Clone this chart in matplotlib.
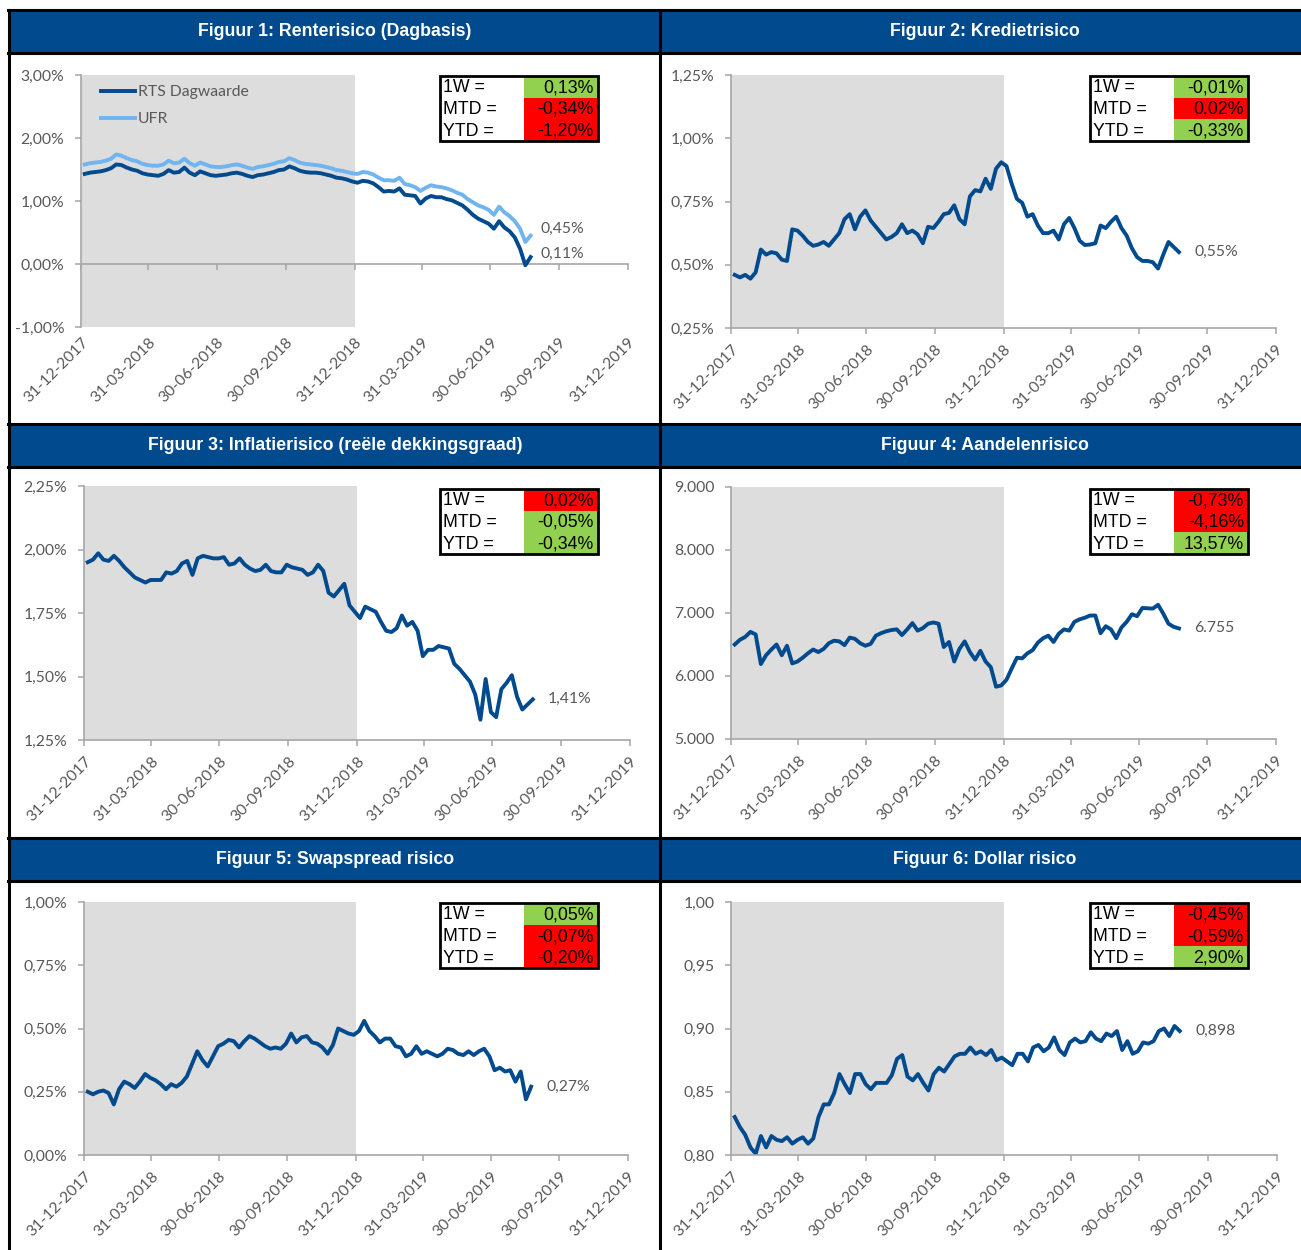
import matplotlib
matplotlib.use("Agg")
import matplotlib.pyplot as plt
import matplotlib.dates as mdates
from matplotlib.patches import Rectangle
from matplotlib.lines import Line2D
from matplotlib.ticker import FuncFormatter, MultipleLocator
import pandas as pd

plt.rcParams["font.family"] = ["Lato", "DejaVu Sans"]

W, H = 1301, 1250

# weekly read-off points (Friday), 05-01-2018 .. 23-08-2019
dates = pd.date_range("2018-01-05", "2019-08-23", freq="7D")

rts = [1.43, 1.45, 1.46, 1.47, 1.49, 1.52, 1.58, 1.57, 1.53, 1.50,
       1.48, 1.44, 1.42, 1.41, 1.40, 1.43, 1.49, 1.45, 1.46, 1.53,
       1.45, 1.41, 1.47, 1.44, 1.41, 1.40, 1.41, 1.42, 1.44, 1.45,
       1.43, 1.40, 1.38, 1.41, 1.42, 1.44, 1.46, 1.49, 1.50, 1.55,
       1.52, 1.48, 1.46, 1.45, 1.45, 1.44, 1.42, 1.40, 1.37, 1.36,
       1.34, 1.31, 1.29, 1.32, 1.31, 1.28, 1.22, 1.15, 1.16, 1.15,
       1.20, 1.10, 1.09, 1.08, 0.96, 1.04, 1.08, 1.06, 1.06, 1.03,
       1.01, 0.97, 0.93, 0.86, 0.78, 0.72, 0.68, 0.64, 0.56, 0.68,
       0.58, 0.52, 0.42, 0.24, -0.02, 0.11]
ufr = [1.58, 1.60, 1.61, 1.62, 1.64, 1.67, 1.74, 1.72, 1.68, 1.65,
       1.63, 1.59, 1.57, 1.56, 1.56, 1.58, 1.64, 1.60, 1.61, 1.67,
       1.60, 1.56, 1.61, 1.58, 1.55, 1.54, 1.54, 1.55, 1.57, 1.58,
       1.56, 1.53, 1.51, 1.54, 1.55, 1.57, 1.59, 1.62, 1.63, 1.68,
       1.65, 1.61, 1.59, 1.58, 1.57, 1.56, 1.54, 1.52, 1.49, 1.48,
       1.46, 1.44, 1.43, 1.46, 1.45, 1.42, 1.37, 1.33, 1.33, 1.32,
       1.37, 1.27, 1.25, 1.22, 1.16, 1.21, 1.25, 1.23, 1.22, 1.20,
       1.17, 1.13, 1.10, 1.03, 0.98, 0.93, 0.90, 0.86, 0.78, 0.91,
       0.82, 0.76, 0.68, 0.56, 0.35, 0.45]
krediet = [0.46, 0.45, 0.46, 0.445, 0.47, 0.56, 0.54, 0.55, 0.545, 0.52,
           0.515, 0.64, 0.635, 0.615, 0.59, 0.575, 0.58, 0.59, 0.575, 0.60,
           0.625, 0.68, 0.70, 0.64, 0.69, 0.715, 0.675, 0.65, 0.625, 0.60,
           0.61, 0.625, 0.66, 0.625, 0.635, 0.62, 0.585, 0.65, 0.645, 0.67,
           0.70, 0.705, 0.735, 0.68, 0.66, 0.77, 0.795, 0.79, 0.84, 0.80,
           0.88, 0.905, 0.89, 0.82, 0.76, 0.745, 0.69, 0.70, 0.655, 0.625,
           0.625, 0.635, 0.60, 0.66, 0.685, 0.645, 0.595, 0.578, 0.58, 0.585,
           0.655, 0.645, 0.67, 0.69, 0.645, 0.615, 0.565, 0.53, 0.515, 0.515,
           0.51, 0.485, 0.54, 0.59, 0.57, 0.55]
inflatie = [1.95, 1.96, 1.985, 1.96, 1.955, 1.975, 1.955, 1.93, 1.91, 1.89,
            1.88, 1.87, 1.88, 1.88, 1.88, 1.91, 1.905, 1.915, 1.945, 1.955,
            1.90, 1.965, 1.975, 1.97, 1.965, 1.965, 1.97, 1.94, 1.945, 1.965,
            1.94, 1.925, 1.915, 1.92, 1.94, 1.915, 1.91, 1.91, 1.94, 1.93,
            1.925, 1.92, 1.90, 1.91, 1.94, 1.915, 1.83, 1.815, 1.84, 1.865,
            1.78, 1.755, 1.73, 1.775, 1.765, 1.755, 1.715, 1.68, 1.675, 1.69,
            1.74, 1.70, 1.715, 1.68, 1.58, 1.605, 1.605, 1.62, 1.615, 1.61,
            1.55, 1.53, 1.505, 1.48, 1.43, 1.33, 1.49, 1.36, 1.34, 1.45,
            1.475, 1.505, 1.42, 1.37, 1.39, 1.41]
aandelen = [6500, 6575, 6620, 6700, 6660, 6190, 6330, 6420, 6500, 6330,
            6480, 6200, 6230, 6290, 6360, 6420, 6380, 6430, 6520, 6560,
            6550, 6490, 6610, 6590, 6520, 6480, 6510, 6640, 6680, 6710,
            6730, 6740, 6650, 6740, 6840, 6720, 6760, 6830, 6850, 6830,
            6460, 6540, 6230, 6430, 6550, 6380, 6260, 6400, 6230, 6140,
            5830, 5850, 5940, 6120, 6290, 6280, 6360, 6410, 6530, 6600,
            6640, 6540, 6670, 6740, 6720, 6860, 6900, 6925, 6960, 6960,
            6680, 6790, 6740, 6600, 6770, 6860, 6980, 6950, 7080, 7075,
            7070, 7130, 6990, 6830, 6780, 6755]
swapspread = [0.25, 0.24, 0.25, 0.255, 0.245, 0.20, 0.26, 0.29, 0.28, 0.265,
              0.29, 0.32, 0.305, 0.295, 0.28, 0.26, 0.28, 0.27, 0.285, 0.31,
              0.36, 0.41, 0.375, 0.35, 0.39, 0.43, 0.44, 0.455, 0.45, 0.425,
              0.45, 0.47, 0.46, 0.445, 0.43, 0.42, 0.425, 0.42, 0.44, 0.48,
              0.445, 0.465, 0.47, 0.445, 0.44, 0.425, 0.40, 0.435, 0.50, 0.49,
              0.48, 0.475, 0.49, 0.53, 0.49, 0.47, 0.445, 0.46, 0.46, 0.43,
              0.425, 0.39, 0.40, 0.43, 0.40, 0.41, 0.40, 0.39, 0.40, 0.42,
              0.415, 0.40, 0.395, 0.41, 0.395, 0.41, 0.42, 0.39, 0.335, 0.345,
              0.33, 0.335, 0.29, 0.33, 0.22, 0.27]
dollar = [0.830, 0.822, 0.816, 0.806, 0.801, 0.815, 0.806, 0.815, 0.812, 0.811,
          0.814, 0.809, 0.812, 0.814, 0.809, 0.813, 0.830, 0.840, 0.840, 0.849,
          0.864, 0.856, 0.849, 0.864, 0.864, 0.856, 0.852, 0.857, 0.857, 0.857,
          0.863, 0.876, 0.879, 0.862, 0.859, 0.864, 0.857, 0.851, 0.864, 0.869,
          0.866, 0.872, 0.878, 0.880, 0.880, 0.885, 0.880, 0.882, 0.879, 0.883,
          0.875, 0.877, 0.874, 0.871, 0.880, 0.880, 0.874, 0.885, 0.887, 0.882,
          0.885, 0.893, 0.883, 0.879, 0.889, 0.892, 0.889, 0.890, 0.897, 0.892,
          0.890, 0.896, 0.894, 0.898, 0.883, 0.890, 0.880, 0.882, 0.889, 0.888,
          0.890, 0.898, 0.900, 0.894, 0.902, 0.898]

titles = ["Figuur 1: Renterisico (Dagbasis)", "Figuur 2: Kredietrisico",
          "Figuur 3: Inflatierisico (reële dekkingsgraad)", "Figuur 4: Aandelenrisico",
          "Figuur 5: Swapspread risico", "Figuur 6: Dollar risico"]

tbl_labels = ["1W =", "MTD =", "YTD ="]
tbl_values = [["0,13%", "-0,34%", "-1,20%"], ["-0,01%", "0,02%", "-0,33%"],
              ["0,02%", "-0,05%", "-0,34%"], ["-0,73%", "-4,16%", "13,57%"],
              ["0,05%", "-0,07%", "-0,20%"], ["-0,45%", "-0,59%", "2,90%"]]
tbl_colors = [["g", "r", "r"], ["g", "r", "g"], ["r", "g", "g"],
              ["r", "r", "g"], ["g", "r", "r"], ["r", "r", "g"]]

xtick_dates = pd.to_datetime(["2017-12-31", "2018-03-31", "2018-06-30", "2018-09-30",
                              "2018-12-31", "2019-03-31", "2019-06-30", "2019-09-30",
                              "2019-12-31"])
shade = (pd.Timestamp("2017-12-31"), pd.Timestamp("2018-12-31"))

NAVY = "#004A8D"
LIGHT = "#70B4F0"
GRAY = "#A6A6A6"
TXT = "#595959"
CELL = {"g": "#92D050", "r": "#FF0000"}
FS = 11.3   # axis text size
LW = 2.8

fig = plt.figure(figsize=(W / 100, H / 100), dpi=100)


def add_ax(l, t, r, b):
    return fig.add_axes([l / W, 1 - b / H, (r - l) / W, (b - t) / H])


def pct(v, _):
    return f"{v:.2f}%".replace(".", ",")


def thousands(v, _):
    return f"{v:,.0f}".replace(",", ".")


def dec2(v, _):
    return f"{v:.2f}".replace(".", ",")


def style(ax, ylim, step, fmt, zero_axis=False):
    ax.set_xlim(xtick_dates[0], xtick_dates[-1])
    ax.set_ylim(*ylim)
    ax.yaxis.set_major_locator(MultipleLocator(step))
    ax.yaxis.set_major_formatter(FuncFormatter(fmt))
    ax.axvspan(*shade, color="#DDDDDD", lw=0, zorder=0)
    for s in ("top", "right"):
        ax.spines[s].set_visible(False)
    for s in ("left", "bottom"):
        ax.spines[s].set_color(GRAY)
        ax.spines[s].set_linewidth(1.2)
    ax.tick_params(colors=GRAY, labelcolor=TXT, labelsize=FS, length=4, width=1.1)
    ax.tick_params(axis="y", pad=8)
    ax.set_xticks(xtick_dates)
    labels = [d.strftime("%d-%m-%Y") for d in xtick_dates]
    if zero_axis:
        ax.spines["bottom"].set_position(("data", 0))
        ax.tick_params(axis="x", labelbottom=False)
        sec = ax.secondary_xaxis("bottom")
        sec.set_xticks(mdates.date2num(xtick_dates), labels)
        sec.spines["bottom"].set_visible(False)
        sec.tick_params(length=0, labelcolor=TXT, labelsize=FS, pad=6)
        for t in sec.get_xticklabels():
            t.set_rotation(45); t.set_ha("right"); t.set_rotation_mode("anchor")
    else:
        ax.set_xticklabels(labels, rotation=45, ha="right", rotation_mode="anchor")
        ax.tick_params(axis="x", pad=6)


def end_label(ax, y, text, dx=11, dy=0):
    ax.annotate(text, (dates[-1], y), xytext=(dx, dy), textcoords="offset points",
                va="center", ha="left", color=TXT, fontsize=FS)


def draw_table(x0, y0, vals, cols):
    bw, bh, split = 158, 65, 84
    rh = bh / 3
    for i, (lab, val, c) in enumerate(zip(tbl_labels, vals, cols)):
        top = y0 + i * rh
        fig.add_artist(Rectangle(((x0 + split) / W, 1 - (top + rh) / H), (bw - split) / W, rh / H,
                                 transform=fig.transFigure, facecolor=CELL[c], edgecolor="none"))
        fig.text((x0 + 3) / W, 1 - (top + rh / 2 + 1) / H, lab, ha="left", va="center",
                 fontsize=12.8, family="Liberation Sans", color="black")
        fig.text((x0 + bw - 4) / W, 1 - (top + rh / 2 + 1) / H, val, ha="right", va="center",
                 fontsize=12.8, family="Liberation Sans", color="black")
    fig.add_artist(Rectangle((x0 / W, 1 - (y0 + bh) / H), bw / W, bh / H, fill=False,
                             edgecolor="black", lw=2, transform=fig.transFigure))


# headers and grid lines
for top in (10, 424, 838):
    fig.add_artist(Rectangle((9 / W, 1 - (top + 43) / H), (W - 9) / W, 43 / H,
                             transform=fig.transFigure, facecolor=NAVY, edgecolor="none"))
for i, t in enumerate(titles):
    row, col = divmod(i, 2)
    cx = 335 if col == 0 else 985
    cy = 31.5 + row * 414
    fig.text(cx / W, 1 - cy / H, t, ha="center", va="center", color="white",
             fontsize=12.8, fontweight="bold", family="Liberation Sans")
for y in (10, 53, 424, 467, 838, 881):
    fig.add_artist(Line2D([8 / W, 1], [1 - y / H] * 2, transform=fig.transFigure, color="black", lw=2.2))
for x in (9, 660):
    fig.add_artist(Line2D([x / W] * 2, [1 - 10 / H, 0], transform=fig.transFigure, color="black", lw=2.2))

# Figuur 1
ax1 = add_ax(81, 75, 628, 327)
style(ax1, (-1, 3), 1, pct, zero_axis=True)
ax1.plot(dates, rts, color=NAVY, lw=LW, label="RTS Dagwaarde", zorder=3)
ax1.plot(dates, ufr, color=LIGHT, lw=LW, label="UFR", zorder=2)
leg = ax1.legend(loc="upper left", bbox_to_anchor=(0.025, 0.985), frameon=False, fontsize=FS,
                 handlelength=2.2, handletextpad=0.15, labelspacing=0.85, borderaxespad=0)
for t in leg.get_texts():
    t.set_color(TXT)
end_label(ax1, ufr[-1], pct(ufr[-1], 0), dx=7, dy=5)
end_label(ax1, rts[-1], pct(rts[-1], 0), dx=7, dy=2)
draw_table(440, 76, tbl_values[0], tbl_colors[0])

# Figuur 2
ax2 = add_ax(731, 75, 1276, 328)
style(ax2, (0.25, 1.25), 0.25, pct)
ax2.plot(dates, krediet, color=NAVY, lw=LW)
end_label(ax2, krediet[-1], pct(krediet[-1], 0))
draw_table(1090, 76, tbl_values[1], tbl_colors[1])

# Figuur 3
ax3 = add_ax(84, 486, 630, 740)
style(ax3, (1.25, 2.25), 0.25, pct)
ax3.plot(dates, inflatie, color=NAVY, lw=LW)
end_label(ax3, inflatie[-1], pct(inflatie[-1], 0))
draw_table(440, 489, tbl_values[2], tbl_colors[2])

# Figuur 4
ax4 = add_ax(731, 487, 1276, 739)
style(ax4, (5000, 9000), 1000, thousands)
ax4.plot(dates, aandelen, color=NAVY, lw=LW)
end_label(ax4, aandelen[-1], thousands(aandelen[-1], 0))
draw_table(1090, 489, tbl_values[3], tbl_colors[3])

# Figuur 5
ax5 = add_ax(84, 902, 628, 1155)
style(ax5, (0, 1), 0.25, pct)
ax5.plot(dates, swapspread, color=NAVY, lw=LW)
end_label(ax5, swapspread[-1], pct(swapspread[-1], 0))
draw_table(440, 903, tbl_values[4], tbl_colors[4])

# Figuur 6
ax6 = add_ax(731, 902, 1277, 1155)
style(ax6, (0.80, 1.00), 0.05, dec2)
ax6.plot(dates, dollar, color=NAVY, lw=LW)
end_label(ax6, dollar[-1], f"{dollar[-1]:.3f}".replace(".", ","))
draw_table(1090, 903, tbl_values[5], tbl_colors[5])

fig.savefig("out.png", dpi=100)
